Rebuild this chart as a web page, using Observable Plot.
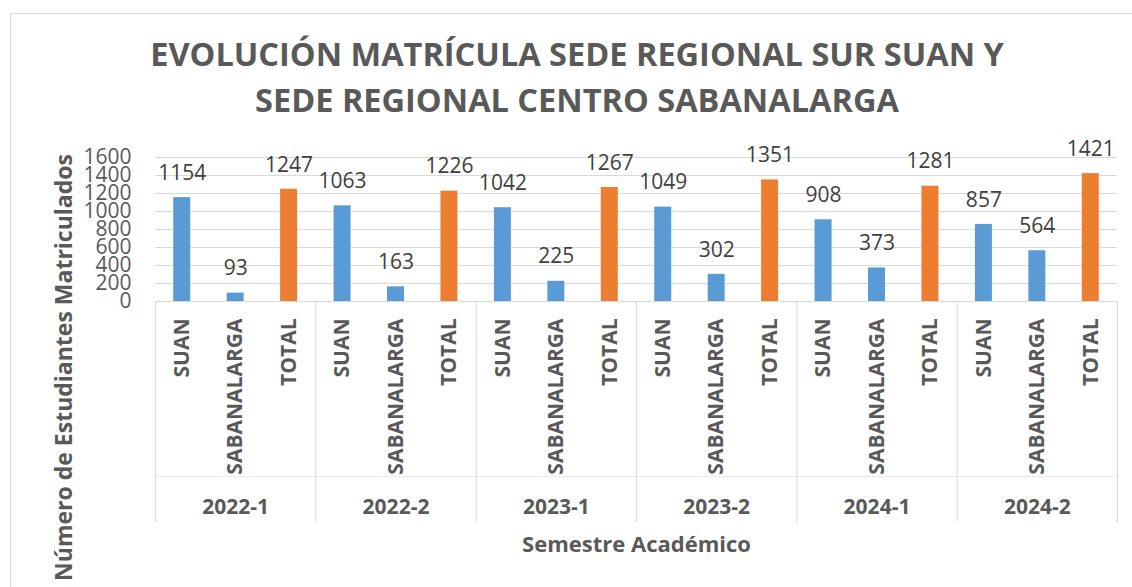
<!DOCTYPE html>
<html>
<head>
<meta charset="utf-8">
<script src="https://cdn.jsdelivr.net/npm/d3@7"></script>
<script src="https://cdn.jsdelivr.net/npm/@observablehq/plot@0.6"></script>
<style>
  html, body { margin: 0; padding: 0; background: #fff; }
  #wrap { position: relative; width: 1132px; height: 587px; overflow: hidden; }
  #border { position: absolute; left: 10px; top: 13px; width: 1130px; height: 580px; border: 1px solid #d9d9d9; box-sizing: border-box; }
  #title { position: absolute; left: 0; top: 31px; width: 1154px; text-align: center;
    font-family: "Open Sans", sans-serif; font-weight: bold;
    font-size: 32.5px; line-height: 46px; color: #595959; }
  #chart { position: absolute; left: 0; top: 140px; }
</style>
</head>
<body>
<div id="wrap">
  <div id="border"></div>
  <div id="title">EVOLUCIÓN MATRÍCULA SEDE REGIONAL SUR SUAN Y<br>SEDE REGIONAL CENTRO SABANALARGA</div>
  <div id="chart"></div>
</div>
<script>
const semesters = ["2022-1", "2022-2", "2023-1", "2023-2", "2024-1", "2024-2"];
const categories = ["SUAN", "SABANALARGA", "TOTAL"];
const suan = [1154, 1063, 1042, 1049, 908, 857];
const sabanalarga = [93, 163, 225, 302, 373, 564];
const total = [1247, 1226, 1267, 1351, 1281, 1421];
const yTicks = [0, 200, 400, 600, 800, 1000, 1200, 1400, 1600];

const seriesValues = {SUAN: suan, SABANALARGA: sabanalarga, TOTAL: total};
const key = (s, c) => `${s}|${c}`;
const rows = semesters.flatMap((s, i) => categories.map(c => ({
  sem: s, cat: c, key: key(s, c), value: seriesValues[c][i]
})));
const domain = rows.map(d => d.key);

const W = 1132, H = 447, ML = 155, MR = 15, MT = 17, MB = 286;
const bw = (W - ML - MR) / domain.length;
const frameH = H - MT - MB;
const gray = "#595959";
const font = "'Open Sans', sans-serif";

const chart = Plot.plot({
  width: W, height: H,
  marginLeft: ML, marginRight: MR, marginTop: MT, marginBottom: MB,
  style: {fontFamily: font, color: gray, background: "transparent", overflow: "visible"},
  x: {type: "band", domain, padding: 0, round: false, axis: null},
  y: {domain: [0, 1600], axis: null},
  marks: [
    Plot.gridY(yTicks, {stroke: "#d9d9d9", strokeOpacity: 1}),
    Plot.axisY(yTicks, {tickSize: 0, tickPadding: 24, fontSize: 21, fill: gray, label: null, tickFormat: d => String(d)}),
    Plot.ruleY([0], {stroke: "#d9d9d9"}),
    Plot.ruleY([0], {stroke: "#ececec", dy: 175}),
    Plot.ruleX(semesters, {x: d => key(d, "SUAN"), dx: -bw / 2, insetTop: frameH, insetBottom: -221, stroke: "#d9d9d9"}),
    Plot.ruleX(semesters.slice(-1), {x: d => key(d, "TOTAL"), dx: bw / 2, insetTop: frameH, insetBottom: -221, stroke: "#d9d9d9"}),
    Plot.barY(rows, {x: "key", y: "value", fill: d => d.cat === "TOTAL" ? "#ED7D31" : "#5B9BD5",
      insetLeft: (bw - 17) / 2, insetRight: (bw - 17) / 2}),
    Plot.text(rows, {x: "key", y: "value", text: d => String(d.value), dy: -24.5, fontSize: 21, fill: "#404040"}),
    Plot.text(rows, {x: "key", text: "cat", frameAnchor: "bottom", rotate: -90, textAnchor: "end", lineAnchor: "middle",
      dy: 17, fontSize: 21, fontWeight: "bold", fill: gray}),
    Plot.text(semesters, {x: d => key(d, "SABANALARGA"), text: d => d, frameAnchor: "bottom", lineAnchor: "middle",
      dy: 206, fontSize: 21, fontWeight: "bold", fill: gray}),
    Plot.text(["Semestre Académico"], {frameAnchor: "bottom", text: d => d, dy: 243, lineAnchor: "middle",
      fontSize: 22, fontWeight: "bold", fill: gray}),
    Plot.text(["Número de Estudiantes Matriculados"], {frameAnchor: "left", text: d => d, rotate: -90,
      textAnchor: "middle", lineAnchor: "middle",
      dx: -91, dy: 138, fontSize: 23, fontWeight: "bold", fill: gray})
  ]
});
document.getElementById("chart").appendChild(chart);
</script>
</body>
</html>
